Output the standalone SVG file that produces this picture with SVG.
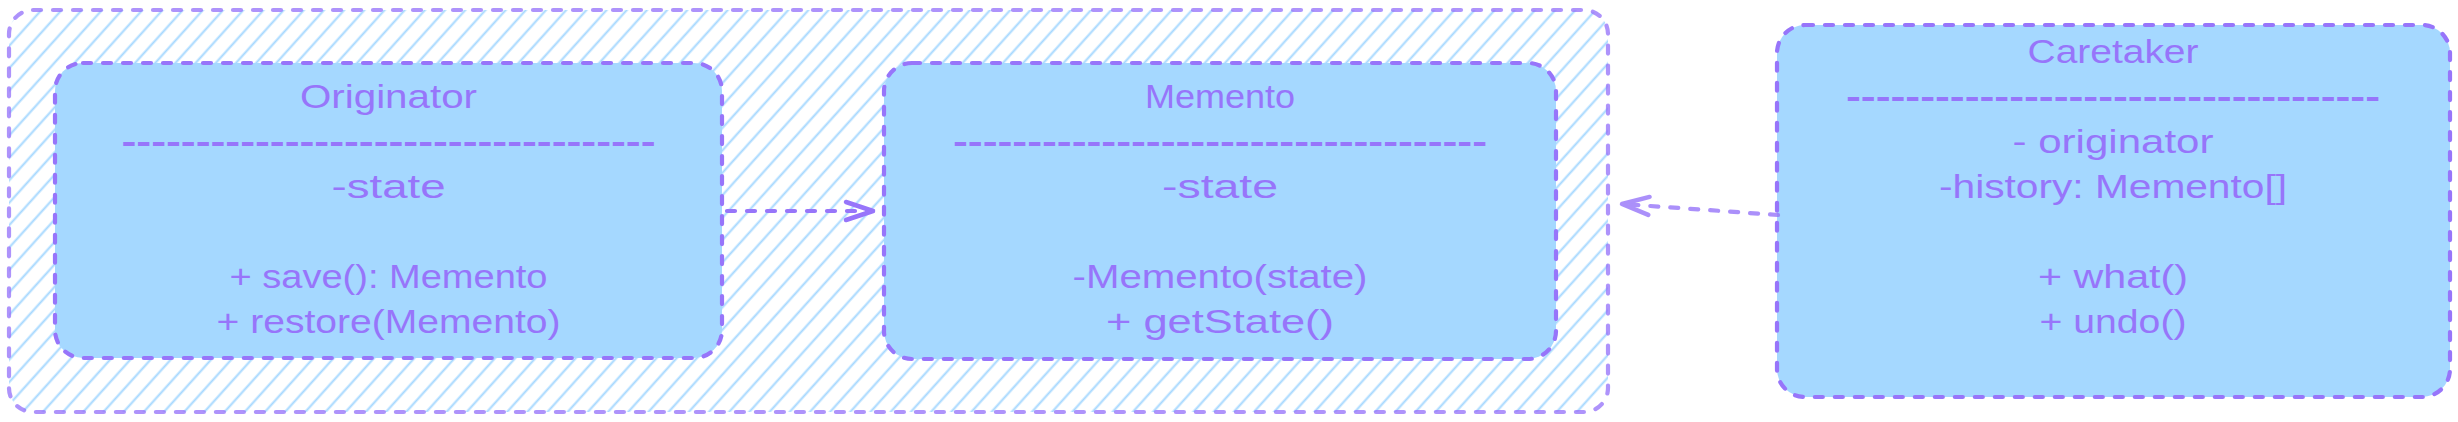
<svg xmlns="http://www.w3.org/2000/svg" width="2458" height="422" viewBox="0 0 2458 422">
  <defs>
    <pattern id="hatch" patternUnits="userSpaceOnUse" width="40" height="15" patternTransform="rotate(-48)">
      <line x1="0" y1="7.5" x2="40" y2="7.5" stroke="#a5d8ff" stroke-width="2.2"/>
    </pattern>
    <marker id="chev" markerUnits="userSpaceOnUse" markerWidth="40" markerHeight="30" viewBox="-32 -15 40 30" refX="0" refY="0" orient="auto">
      <path d="M-27,-9 L0,0 L-27,9" fill="none" stroke="#9775fa" stroke-width="4.5" stroke-linecap="round" stroke-linejoin="round" stroke-dasharray="none"/>
    </marker>
    <style>
      .box { fill: #a5d8ff; stroke: #9775fa; stroke-width: 4.2; stroke-dasharray: 8 12; stroke-linecap: round; }
      .frame { fill: url(#hatch); stroke: #9775fa; stroke-opacity: 0.78; stroke-width: 4.2; stroke-dasharray: 8 12; stroke-linecap: round; }
      .conn { fill: none; stroke: #9775fa; stroke-width: 4.2; stroke-dasharray: 8 12; stroke-linecap: round; }
      .t { font-family: "Liberation Sans", Arial, sans-serif; font-size: 34px; fill: #9775fa; text-anchor: middle; }
      .sep { font-family: "Liberation Sans", Arial, sans-serif; font-size: 33px; font-weight: bold; fill: #9775fa; text-anchor: middle; }
    </style>
  </defs>

  <g id="pattern-frame">
    <rect class="frame" x="9" y="10" width="1599" height="402" rx="24" ry="24"/>
  </g>

  <g id="originator">
    <rect class="box" x="55" y="63" width="667" height="295" rx="28" ry="28"/>
    <text class="t" x="388.5" y="108" textLength="177" lengthAdjust="spacingAndGlyphs">Originator</text>
    <text class="sep" x="388.5" y="153" textLength="534" lengthAdjust="spacingAndGlyphs">------------------------------------</text>
    <text class="t" x="388.5" y="198" textLength="114" lengthAdjust="spacingAndGlyphs">-state</text>
    <text class="t" x="388.5" y="288" textLength="318" lengthAdjust="spacingAndGlyphs">+ save(): Memento</text>
    <text class="t" x="388.5" y="333" textLength="344" lengthAdjust="spacingAndGlyphs">+ restore(Memento)</text>
  </g>

  <g id="memento">
    <rect class="box" x="884" y="63" width="672" height="296" rx="28" ry="28"/>
    <text class="t" x="1220" y="108" textLength="150" lengthAdjust="spacingAndGlyphs">Memento</text>
    <text class="sep" x="1220" y="153" textLength="534" lengthAdjust="spacingAndGlyphs">------------------------------------</text>
    <text class="t" x="1220" y="198" textLength="116" lengthAdjust="spacingAndGlyphs">-state</text>
    <text class="t" x="1220" y="288" textLength="295" lengthAdjust="spacingAndGlyphs">-Memento(state)</text>
    <text class="t" x="1220" y="333" textLength="228" lengthAdjust="spacingAndGlyphs">+ getState()</text>
  </g>

  <g id="caretaker">
    <rect class="box" x="1777" y="25" width="673" height="372" rx="28" ry="28"/>
    <text class="t" x="2113" y="63" textLength="171" lengthAdjust="spacingAndGlyphs">Caretaker</text>
    <text class="sep" x="2113" y="108" textLength="534" lengthAdjust="spacingAndGlyphs">------------------------------------</text>
    <text class="t" x="2113" y="153" textLength="201" lengthAdjust="spacingAndGlyphs">- originator</text>
    <text class="t" x="2113" y="198" textLength="348" lengthAdjust="spacingAndGlyphs">-history: Memento[]</text>
    <text class="t" x="2113" y="288" textLength="150" lengthAdjust="spacingAndGlyphs">+ what()</text>
    <text class="t" x="2113" y="333" textLength="147" lengthAdjust="spacingAndGlyphs">+ undo()</text>
  </g>

  <g id="connectors">
    <path class="conn" d="M727,211 L873,211" marker-end="url(#chev)"/>
    <g opacity="0.8">
      <path class="conn" d="M1778,215 L1622,204" marker-end="url(#chev)"/>
    </g>
  </g>
</svg>
